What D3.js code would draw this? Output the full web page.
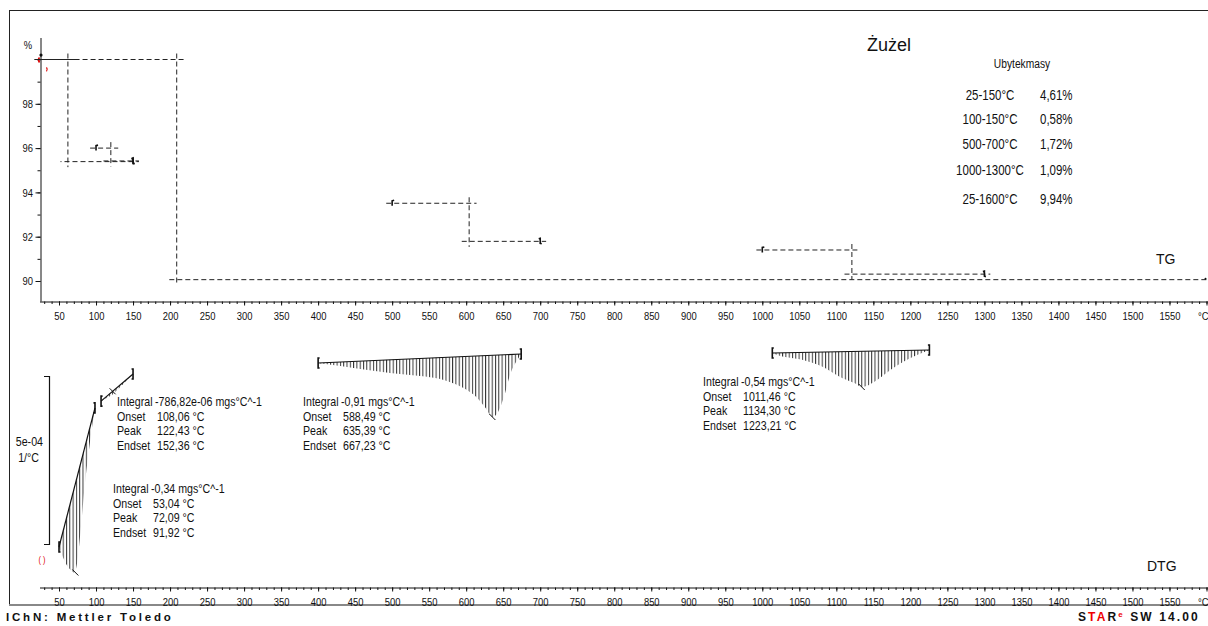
<!DOCTYPE html>
<html>
<head>
<meta charset="utf-8">
<script src="https://cdn.jsdelivr.net/npm/d3@7"></script>
<style>
  body { margin: 0; background: #fff; }
  svg { display: block; }
  text { font-family: "Liberation Sans", Arial, sans-serif; fill: #111; }
</style>
</head>
<body>
<svg id="chart" width="1208" height="626"></svg>
<script>
// ---- TG step evaluation (mass loss steps) ----
const stepStart   = [25, 100, 500, 1000, 25];
const stepEnd     = [150, 150, 700, 1300, 1600];
const stepLoss    = [4.61, 0.58, 1.72, 1.09, 9.94];
const stepLevel   = [100.0, 96.0, 93.51, 91.40, 100.0];
const stepInflect = [62, 120, 604, 1121, 209];

// ---- DTG peaks: curve samples [T, value in 1e-4 1/°C]; first/last are the baseline ends ----
const peak1Curve = [[50, -6.16], [51.4, -6.25], [55.8, -6.49], [60.4, -6.70], [66, -6.85], [70.5, -6.92],
                    [74, -6.70], [77, -6.16], [80.5, -5.36], [84.5, -4.38], [89.6, -3.42], [98.6, -2.02]];
const peak2Curve = [[106.8, -1.82], [115, -1.72], [122.4, -1.62], [135, -1.35], [150, -1.01]];
const peak3Curve = [[400, -0.685], [430, -0.774], [457, -0.863], [497, -0.982], [538, -1.071], [565, -1.161],
                    [585, -1.310], [601, -1.488], [615, -1.726], [626, -2.02], [635.4, -2.292], [643, -2.14],
                    [651, -1.70], [660, -0.982], [669, -0.595], [674.3, -0.417]];
const peak4Curve = [[1013.5, -0.387], [1020, -0.446], [1055, -0.595], [1082, -0.804], [1105, -1.101],
                    [1125, -1.290], [1134.3, -1.399], [1155, -1.190], [1173, -0.893], [1190, -0.655],
                    [1209, -0.446], [1225.7, -0.298]];
const peakCurves   = [peak1Curve, peak2Curve, peak3Curve, peak4Curve];
const peakIntegral = ["-0,34", "-786,82e-06", "-0,91", "-0,54"];
const peakOnset    = [53.04, 108.06, 588.49, 1011.46];
const peakTemp     = [72.09, 122.43, 635.39, 1134.30];
const peakEndset   = [91.92, 152.36, 667.23, 1223.21];

// ---- axes ----
const xTickValues   = d3.range(50, 1601, 50);
const xMinorValues  = d3.range(30, 1601, 10);
const tgTickValues  = [90, 92, 94, 96, 98];
const tgMinorValues = d3.range(90, 101, 1);

const NARROW = 0.82;   // horizontal squeeze for the condensed instrument font
const svg = d3.select("#chart");
const comma = v => d3.format(".2f")(v).replace(".", ",");

// condensed text helper
function ntext(px, py, size, str, anchor) {
  return svg.append("text")
    .attr("transform", `translate(${px},${py}) scale(${NARROW},1)`)
    .attr("text-anchor", anchor || "start")
    .attr("font-size", size).text(str);
}

const x = d3.scaleLinear().domain([25, 1600]).range([40.5, 1206.5]);
const yTG = d3.scaleLinear().domain([90, 100]).range([281, 59.5]);
const yDTG = d3.scaleLinear().domain([0, -10]).range([340, 676]);

// outer frame
svg.append("line").attr("x1", 9.5).attr("x2", 9.5).attr("y1", 10).attr("y2", 605).attr("stroke", "#222");
svg.append("line").attr("x1", 9).attr("x2", 1208).attr("y1", 10.5).attr("y2", 10.5).attr("stroke", "#222");
svg.append("line").attr("x1", 9).attr("x2", 1208).attr("y1", 605).attr("y2", 605).attr("stroke", "#888").attr("stroke-width", 2);

// temperature axis (same layout in both panels)
function tempAxis(yPos) {
  const g = svg.append("g").attr("transform", `translate(0,${yPos})`);
  g.call(d3.axisBottom(x).tickValues(xMinorValues).tickSize(2.5).tickFormat(""))
   .call(a => a.select(".domain").remove());
  g.selectAll("line").attr("stroke", "#111");
  const major = svg.append("g").attr("transform", `translate(0,${yPos})`)
    .call(d3.axisBottom(x).tickValues(xTickValues).tickSize(4).tickPadding(6)
      .tickFormat(d => d === 1600 ? "°C" : d));
  major.select(".domain").attr("d", `M${x(25) - 0.5},0.5H1208`).attr("stroke", "#111");
  major.selectAll("line").attr("stroke", "#111");
  major.selectAll("text").attr("font-size", 11.5).attr("fill", "#111")
    .attr("transform", `scale(${NARROW},1)`);
  major.selectAll(".tick text").filter(d => d === 1600)
    .attr("text-anchor", "start").attr("x", -9 / NARROW);
}
tempAxis(301.5);
tempAxis(587.5);

// TG y axis
const yAxisScale = yTG.copy().domain([yTG.invert(301.5), yTG.invert(38)]).range([301.5, 38]);
svg.append("g").attr("transform", "translate(40.5,0)")
  .call(d3.axisLeft(yAxisScale).tickValues(tgMinorValues).tickSize(3).tickFormat(""))
  .call(a => a.select(".domain").remove())
  .selectAll("line").attr("stroke", "#111");
const yAx = svg.append("g").attr("transform", "translate(40.5,0)")
  .call(d3.axisLeft(yAxisScale).tickValues(tgTickValues).tickSize(5).tickPadding(3));
yAx.selectAll("text").attr("font-size", 11.5).attr("fill", "#111")
  .attr("x", -7.5 / NARROW).attr("transform", `scale(${NARROW},1)`);
yAx.selectAll("line").attr("stroke", "#111");
yAx.select(".domain").attr("stroke", "#111").attr("d", "M0.5,38V301.5");
ntext(28, 49, 11.5, "%", "middle");

// curve start indicators
svg.append("circle").attr("cx", x(25) + 0.5).attr("cy", yTG(100.2)).attr("r", 1.6).attr("fill", "#111");
svg.append("path").attr("d", `M${x(25) - 1},${yTG(100) - 2} q-2,2 0,5`).attr("fill", "none").attr("stroke", "#d00").attr("stroke-width", 1.6);
svg.append("path").attr("d", `M${x(25) + 6},${yTG(99.55) - 2} q1.5,2 0,4`).attr("fill", "none").attr("stroke", "#d00").attr("stroke-width", 1.2);

// TG step lines
const stepG = svg.append("g").attr("fill", "none").attr("stroke", "#222").attr("stroke-width", 1)
  .attr("stroke-dasharray", "5,3");
stepStart.forEach((s, i) => {
  const top = stepLevel[i], bottom = stepLevel[i] - stepLoss[i], inf = stepInflect[i];
  const off = i === 0 ? 4 : 0;
  stepG.append("line").attr("x1", x(s - 8)).attr("x2", x(inf + 10))
    .attr("y1", yTG(top)).attr("y2", yTG(top)).attr("stroke-dashoffset", off);
  stepG.append("line").attr("x1", x(inf)).attr("x2", x(inf))
    .attr("y1", yTG(top + 0.27)).attr("y2", yTG(bottom - 0.25));
  stepG.append("line").attr("x1", x(inf - 10)).attr("x2", x(Math.min(stepEnd[i] + 8, 1608)))
    .attr("y1", yTG(bottom)).attr("y2", yTG(bottom)).attr("stroke-dashoffset", off);
  // step limit markers
  if (s > 25) {
    svg.append("path").attr("d", `M${x(s)},${yTG(top) + 2.5}V${yTG(top) - 2.5}l2,-0.5`)
      .attr("fill", "none").attr("stroke", "#111").attr("stroke-width", 1.6);
  }
  if (stepEnd[i] < 1600) {
    svg.append("path").attr("d", `M${x(stepEnd[i]) - 1.5},${yTG(bottom) - 2.5}l1.5,-0.5V${yTG(bottom) + 2}l1.5,0.5`)
      .attr("fill", "none").attr("stroke", "#111").attr("stroke-width", 1.6);
  } else {
    svg.append("circle").attr("cx", x(stepEnd[i]) - 1).attr("cy", yTG(bottom) - 1).attr("r", 1).attr("fill", "#111");
  }
});

// title and results table
svg.append("text").attr("x", 889).attr("y", 51).attr("text-anchor", "middle").attr("font-size", 18).text("Żużel");
ntext(1022, 68, 12.5, "Ubytekmasy", "middle");
const rowY = [99.5, 123.5, 148.5, 174.5, 203.5];
stepStart.forEach((s, i) => {
  ntext(990, rowY[i], 14, `${s}-${stepEnd[i]}°C`, "middle");
  ntext(1040, rowY[i], 14, comma(stepLoss[i]) + "%");
});
svg.append("text").attr("x", 1156).attr("y", 264).attr("font-size", 14).text("TG");
svg.append("text").attr("x", 1147).attr("y", 571).attr("font-size", 14).text("DTG");

// DTG hatched peak areas
const defs = svg.append("defs");
const pat = defs.append("pattern").attr("id", "hatch").attr("patternUnits", "userSpaceOnUse")
  .attr("width", 3.3).attr("height", 20);
pat.append("rect").attr("x", 0).attr("y", 0).attr("width", 1).attr("height", 20).attr("fill", "#333");

const peakG = svg.append("g");
peakCurves.forEach((pts, i) => {
  const a = pts[0], b = pts[pts.length - 1];
  const base = t => a[1] + (b[1] - a[1]) * (t - a[0]) / (b[0] - a[0]);
  const area = d3.area().x(d => x(d[0])).y0(d => yDTG(base(d[0]))).y1(d => yDTG(d[1])).curve(d3.curveMonotoneX);
  peakG.append("path").datum(pts).attr("d", area).attr("fill", "url(#hatch)");
  peakG.append("line").attr("x1", x(a[0])).attr("x2", x(b[0])).attr("y1", yDTG(a[1])).attr("y2", yDTG(b[1]))
    .attr("stroke", "#111").attr("stroke-width", 1.2);
  [a, b].forEach((p, k) => {
    const px = x(p[0]), py = yDTG(p[1]);
    const dir = k === 0 ? 1.5 : -1.5;
    peakG.append("path").attr("d", `M${px + dir},${py - 5}H${px}V${py + 5}H${px + dir}`)
      .attr("fill", "none").attr("stroke", "#111").attr("stroke-width", 1.6);
  });
  // peak marker
  const pk = pts.reduce((m, d) => d[1] < m[1] ? d : m, pts[0]);
  const px = x(peakTemp[i]), py = yDTG(i === 1 ? base(peakTemp[i]) : pk[1]);
  peakG.append("path").attr("d", `M${px - 3},${py - 3}L${px + 3},${py + 3}`)
    .attr("stroke", "#111").attr("stroke-width", 1);
});

// DTG curve start indicator
ntext(42, 563, 9, "( )", "middle").style("fill", "#d00");

// DTG scale bar
const barTop = 376;
const barBot = barTop + (yDTG(-5) - yDTG(0));
svg.append("path").attr("d", `M44,${barTop + 0.5}H49.5V${barBot + 0.5}H44`).attr("fill", "none")
  .attr("stroke", "#111").attr("stroke-width", 1.2);
ntext(43, 446, 13, "5e-04", "end");
ntext(39, 462, 13, "1/°C", "end");

// peak evaluation labels
const labelPos = [[113, 493], [117, 406], [303, 406], [703, 386]];
peakIntegral.forEach((v, i) => {
  const [lx, ly] = labelPos[i];
  const rows = [["Integral", `${v} mgs°C^-1`], ["Onset", `${comma(peakOnset[i])} °C`],
                ["Peak", `${comma(peakTemp[i])} °C`], ["Endset", `${comma(peakEndset[i])} °C`]];
  rows.forEach((r, k) => {
    ntext(lx, ly + k * 14.6, 13, r[0]);
    ntext(lx + (k === 0 ? 38 : 40), ly + k * 14.6, 13, r[1]);
  });
});

// footer
svg.append("text").attr("x", 6).attr("y", 621).attr("font-size", 11.5)
  .attr("font-weight", "bold").attr("letter-spacing", 2.8).text("IChN: Mettler Toledo");
const star = svg.append("text").attr("x", 1078).attr("y", 621).attr("font-size", 12)
  .attr("font-weight", "bold").attr("letter-spacing", 2.1);
[["S", "#111"], ["T", "#e00"], ["A", "#e00"], ["R", "#111"]].forEach(([c, col]) =>
  star.append("tspan").style("fill", col).text(c));
star.append("tspan").style("fill", "#e00").attr("font-size", 8).attr("dy", -4).text("e");
star.append("tspan").style("fill", "#111").attr("dy", 4).text(" SW 14.00");
</script>
</body>
</html>
